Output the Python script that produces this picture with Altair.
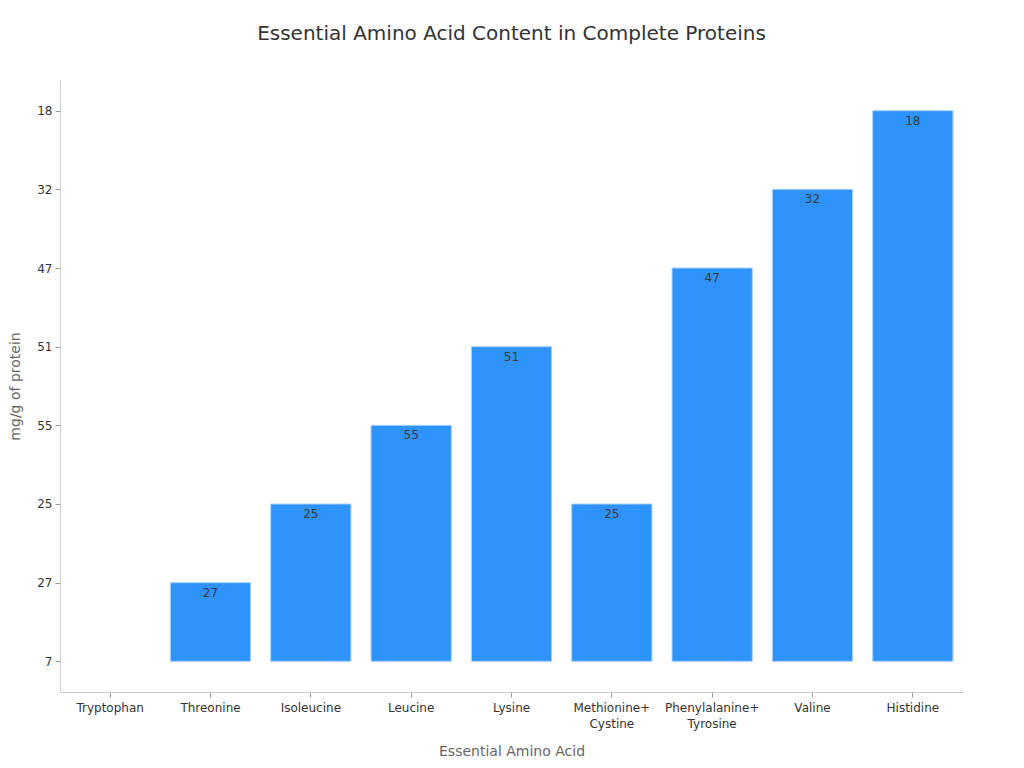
import altair as alt
import pandas as pd

acids = ["Tryptophan", "Threonine", "Isoleucine", "Leucine", "Lysine",
         "Methionine+Cystine", "Phenylalanine+Tyrosine", "Valine", "Histidine"]
values = ["7", "27", "25", "55", "51", "25", "47", "32", "18"]

# category-style y axis: values in order of first appearance, bottom to top
y_order = []
for v in values:
    if v not in y_order:
        y_order.append(v)
baseline = y_order[0]

df = pd.DataFrame({"acid": acids, "value": values})

FONT = "DejaVu Sans"

x_enc = alt.X(
    "acid:N",
    sort=acids,
    title="Essential Amino Acid",
    scale=alt.Scale(paddingInner=0.2, paddingOuter=0.1),
    axis=alt.Axis(
        labelAngle=0,
        labelExpr="indexof(datum.label, '+') >= 0 ? [substring(datum.label, 0, indexof(datum.label, '+') + 1), substring(datum.label, indexof(datum.label, '+') + 1)] : datum.label",
        labelFontSize=12,
        labelColor="#333333",
        labelPadding=5,
        labelLineHeight=16,
        tickColor="#999999",
        tickSize=5,
        domainColor="#cccccc",
        titleFontSize=14,
        titleColor="#666666",
        titleFontWeight="normal",
        titlePadding=15,
    ),
)

y_scale = alt.Scale(type="point", domain=list(reversed(y_order)), padding=0.39)

bars = alt.Chart(df).mark_bar(
    color="#2E93FA", stroke="#a9d1fb", strokeWidth=1
).encode(
    x=x_enc,
    y=alt.Y(
        "value:N",
        scale=y_scale,
        title="mg/g of protein",
        axis=alt.Axis(
            labelFontSize=12,
            labelColor="#333333",
            labelPadding=3,
            tickColor="#999999",
            tickSize=5,
            domainColor="#cccccc",
            grid=False,
            titleFontSize=14,
            titleColor="#666666",
            titleFontWeight="normal",
            titlePadding=14,
        ),
    ),
    y2=alt.datum(baseline),
    strokeOpacity=alt.condition(alt.datum.value == baseline, alt.value(0), alt.value(1)),
)

labels = alt.Chart(df).transform_filter(
    alt.datum.value != baseline
).mark_text(
    baseline="middle", dy=10, fontSize=12, color="#3a3a3a", font=FONT
).encode(
    x=alt.X("acid:N", sort=acids),
    y=alt.Y("value:N", scale=y_scale),
    text="value:N",
)

chart = alt.layer(bars, labels).properties(
    width=903,
    height=612,
    title=alt.TitleParams(
        "Essential Amino Acid Content in Complete Proteins",
        fontSize=20,
        fontWeight="normal",
        color="#333333",
        font=FONT,
        offset=36,
    ),
    autosize=alt.AutoSizeParams(type="none"),
    padding={"left": 52, "top": 72, "right": 45, "bottom": 68},
).configure(font=FONT).configure_view(stroke=None)

chart.save("out.html", embed_options={"renderer": "svg", "actions": False})
